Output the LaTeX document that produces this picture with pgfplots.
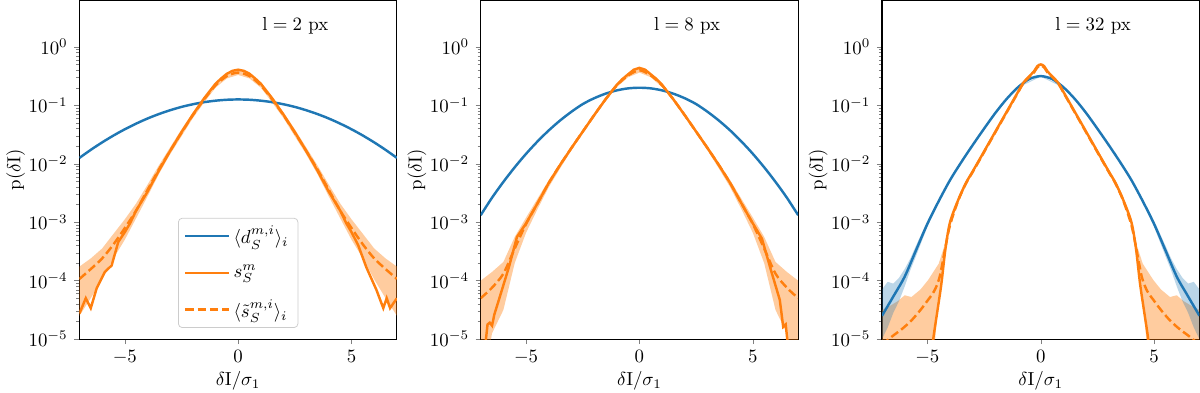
\documentclass[border=0pt]{standalone}
\usepackage{pgfplots}
\pgfplotsset{compat=1.18}

\definecolor{tabblue}{HTML}{1F77B4}
\definecolor{taborange}{HTML}{FF7F0E}

\pgfplotsset{legend image code/.code={\draw[#1] (0pt,0pt) -- (23pt,0pt);}}
\pgfplotsset{
  panel/.style={
    scale only axis,
    width=168.5pt, height=179.7pt,
    xmin=-7, xmax=7,
    ymin=1e-5, ymax=6.2,
    xtick={-5,0,5},
    ytickten={-5,...,0},
    tick align=outside,
    xtick pos=bottom, ytick pos=left,
    major tick length=2.7pt, minor tick length=1.6pt,
    axis line style={line width=0.6pt},
    xlabel={$\delta\mathrm{I}/\sigma_1$},
    ylabel={$\mathrm{p}(\delta\mathrm{I})$},
    xlabel style={at={(axis description cs:0.5,0)}, anchor=north,
      yshift=-16pt, inner sep=1pt},
    ylabel shift=-5pt,
  },
  dline/.style={tabblue, line width=1.3pt},
  sline/.style={taborange, line width=1.3pt},
  mline/.style={taborange, line width=1.3pt, dash pattern=on 4.5pt off 2pt},
  oband/.style={fill=taborange, fill opacity=0.4, draw=none, forget plot},
  bband/.style={fill=tabblue, fill opacity=0.3, draw=none, forget plot},
}

\begin{document}
\begin{tikzpicture}

% ---------- l = 2 px ----------
\begin{axis}[ymode=log, panel, at={(0pt,0pt)},
  legend style={at={(0.5,0.033)}, anchor=south, draw=black!20,
    rounded corners=2pt, row sep=6pt, inner xsep=3pt, inner ysep=2pt},
  legend cell align=left,
]
\addplot[oband] coordinates {
  (-7,1.74e-4) (-6.5,2.40e-4) (-6,3.55e-4) (-5.5,6.31e-4) (-5,1.12e-3)
  (-4.5,2.09e-3) (-4,4.37e-3) (-3.5,9.33e-3) (-3,0.0191) (-2.5,0.0389)
  (-2,0.0759) (-1.5,0.138) (-1,0.240) (-0.5,0.347) (0,0.398)
  (0.5,0.347) (1,0.240) (1.5,0.138) (2,0.0759) (2.5,0.0389) (3,0.0191)
  (3.5,9.33e-3) (4,4.37e-3) (4.5,2.09e-3) (5,1.12e-3) (5.5,6.31e-4)
  (6,3.55e-4) (6.5,2.40e-4) (7,1.74e-4)
  (7,2.51e-5) (6.5,5.01e-5) (6,1.05e-4) (5.5,2.40e-4) (5,5.01e-4)
  (4.5,1.17e-3) (4,2.75e-3) (3.5,6.61e-3) (3,0.0145) (2.5,0.0295)
  (2,0.0603) (1.5,0.112) (1,0.200) (0.5,0.288) (0,0.331)
  (-0.5,0.288) (-1,0.200) (-1.5,0.112) (-2,0.0603) (-2.5,0.0295)
  (-3,0.0145) (-3.5,6.61e-3) (-4,2.75e-3) (-4.5,1.17e-3) (-5,5.01e-4)
  (-5.5,2.40e-4) (-6,1.05e-4) (-6.5,5.01e-5) (-7,2.51e-5)
} -- cycle;
\addplot[dline, smooth] coordinates {
  (-7,0.0126) (-6.5,0.0173) (-6,0.0232) (-5.5,0.0304) (-5,0.0389)
  (-4.5,0.0486) (-4,0.0594) (-3.5,0.0708) (-3,0.0824) (-2.5,0.0939)
  (-2,0.1042) (-1.5,0.1132) (-1,0.120) (-0.5,0.1245) (0,0.126)
  (0.5,0.1245) (1,0.120) (1.5,0.1132) (2,0.1042) (2.5,0.0939)
  (3,0.0824) (3.5,0.0708) (4,0.0594) (4.5,0.0486) (5,0.0389)
  (5.5,0.0304) (6,0.0232) (6.5,0.0173) (7,0.0126)
};
\addlegendentry{$\langle d_S^{m,i}\rangle_i$}
\addplot[sline] coordinates {
  (-7,2.75e-5) (-6.72,5.01e-5) (-6.5,3.39e-5) (-6.24,7.41e-5)
  (-5.88,1.41e-4) (-5.58,1.82e-4) (-5.29,4.57e-4) (-5,6.76e-4)
  (-4.77,9.55e-4) (-4.5,1.58e-3) (-4,3.31e-3) (-3.5,7.59e-3)
  (-3,0.0166) (-2.5,0.0347) (-2,0.0692) (-1.5,0.132) (-1,0.234)
  (-0.75,0.288) (-0.5,0.347) (-0.25,0.389) (0,0.407)
  (0.25,0.389) (0.5,0.347) (0.75,0.288) (1,0.234) (1.5,0.132)
  (2,0.0692) (2.5,0.0347) (3,0.0166) (3.5,7.59e-3) (4,3.31e-3)
  (4.5,1.58e-3) (4.77,9.55e-4) (5,6.76e-4) (5.3,3.98e-4)
  (5.65,1.70e-4) (6.1,6.92e-5) (6.4,3.39e-5) (6.55,5.01e-5)
  (6.7,3.39e-5) (7,5.01e-5)
};
\addlegendentry{$s_S^m$}
\addplot[mline, smooth] coordinates {
  (-7,1.07e-4) (-6.5,1.58e-4) (-6,2.40e-4) (-5.5,4.17e-4) (-5,7.94e-4)
  (-4.5,1.58e-3) (-4,3.55e-3) (-3.5,7.94e-3) (-3,0.0166) (-2.5,0.0339)
  (-2,0.0676) (-1.5,0.126) (-1,0.219) (-0.5,0.316) (0,0.363)
  (0.5,0.316) (1,0.219) (1.5,0.126) (2,0.0676) (2.5,0.0339)
  (3,0.0166) (3.5,7.94e-3) (4,3.55e-3) (4.5,1.58e-3) (5,7.94e-4)
  (5.5,4.17e-4) (6,2.40e-4) (6.5,1.58e-4) (7,1.07e-4)
};
\addlegendentry{$\langle \tilde{s}_S^{m,i}\rangle_i$}
\node at (rel axis cs:0.68,0.926) {$\mathrm{l = 2\ px}$};
\end{axis}

% ---------- l = 8 px ----------
\begin{axis}[ymode=log, panel, at={(213pt,0pt)}]
\addplot[oband] coordinates {
  (-7,1.0e-4) (-6.5,1.41e-4) (-6,2.09e-4) (-5.5,5.62e-4) (-5,1.20e-3)
  (-4.5,2.51e-3) (-4,5.25e-3) (-3.5,0.0102) (-3,0.0200) (-2.5,0.0380)
  (-2,0.0724) (-1.5,0.132) (-1,0.234) (-0.5,0.347) (0,0.437)
  (0.5,0.347) (1,0.234) (1.5,0.132) (2,0.0724) (2.5,0.0380) (3,0.0200)
  (3.5,0.0102) (4,5.25e-3) (4.5,2.51e-3) (5,1.20e-3) (5.5,5.62e-4)
  (6,2.09e-4) (6.5,1.41e-4) (7,1.0e-4)
  (7,1e-6) (6.5,1.26e-5) (6,3.16e-5) (5.5,2.0e-4) (5,6.61e-4)
  (4.5,1.66e-3) (4,3.98e-3) (3.5,8.32e-3) (3,0.0170) (2.5,0.0331)
  (2,0.0631) (1.5,0.1175) (1,0.204) (0.5,0.302) (0,0.363)
  (-0.5,0.302) (-1,0.204) (-1.5,0.1175) (-2,0.0631) (-2.5,0.0331)
  (-3,0.0170) (-3.5,8.32e-3) (-4,3.98e-3) (-4.5,1.66e-3) (-5,6.61e-4)
  (-5.5,2.0e-4) (-6,3.16e-5) (-6.5,1.26e-5) (-7,1e-6)
} -- cycle;
\addplot[dline, smooth] coordinates {
  (-7,1.32e-3) (-6.5,2.63e-3) (-6,4.90e-3) (-5.5,8.71e-3) (-5,0.0148)
  (-4.5,0.0240) (-4,0.0372) (-3.5,0.0550) (-3,0.0776) (-2.5,0.105)
  (-2,0.132) (-1.5,0.158) (-1,0.180) (-0.5,0.195) (0,0.200)
  (0.5,0.195) (1,0.180) (1.5,0.158) (2,0.132) (2.5,0.105) (3,0.0776)
  (3.5,0.0550) (4,0.0372) (4.5,0.0240) (5,0.0148) (5.5,8.71e-3)
  (6,4.90e-3) (6.5,2.63e-3) (7,1.32e-3)
};
\addplot[sline] coordinates {
  (-6.85,5e-6) (-6.7,1.78e-5) (-6.6,1.91e-5) (-6.5,1.70e-5)
  (-6.4,2.63e-5) (-6.2,4.68e-5) (-5.75,1.74e-4) (-5.4,5.62e-4)
  (-5,9.55e-4) (-4.5,2.09e-3) (-4,4.68e-3) (-3.5,9.55e-3)
  (-3,0.0186) (-2.5,0.0355) (-2,0.0676) (-1.5,0.126) (-1,0.224)
  (-0.75,0.282) (-0.5,0.339) (-0.25,0.407) (0,0.437)
  (0.25,0.407) (0.5,0.339) (0.75,0.282) (1,0.224) (1.5,0.126)
  (2,0.0676) (2.5,0.0355) (3,0.0186) (3.5,9.55e-3) (4,4.68e-3)
  (4.5,2.09e-3) (5,9.55e-4) (5.4,5.25e-4) (5.8,1.51e-4)
  (6.19,4.68e-5) (6.34,1.62e-5) (6.45,1.78e-5) (6.6,5e-6)
};
\addplot[mline, smooth] coordinates {
  (-7,5.01e-5) (-6.5,7.59e-5) (-6,1.32e-4) (-5.5,3.55e-4) (-5,9.33e-4)
  (-4.5,2.09e-3) (-4,4.68e-3) (-3.5,9.55e-3) (-3,0.0186) (-2.5,0.0355)
  (-2,0.0676) (-1.5,0.126) (-1,0.219) (-0.5,0.324) (0,0.398)
  (0.5,0.324) (1,0.219) (1.5,0.126) (2,0.0676) (2.5,0.0355)
  (3,0.0186) (3.5,9.55e-3) (4,4.68e-3) (4.5,2.09e-3) (5,9.33e-4)
  (5.5,3.55e-4) (6,1.32e-4) (6.5,7.59e-5) (7,5.01e-5)
};
\node at (rel axis cs:0.65,0.926) {$\mathrm{l = 8\ px}$};
\end{axis}

% ---------- l = 32 px ----------
\begin{axis}[ymode=log, panel, at={(426pt,0pt)}]
\addplot[oband] coordinates {
  (-7,3.16e-5) (-6.6,3.80e-5) (-6.3,4.47e-5) (-6,5.62e-5) (-5.7,5.25e-5)
  (-5.3,7.08e-5) (-4.97,1.02e-4) (-4.5,1.95e-4) (-4.07,6.46e-4)
  (-3.64,2.69e-3) (-3.3,5.13e-3) (-3,7.94e-3) (-2.5,0.0170) (-2,0.0372)
  (-1.5,0.0813) (-1,0.178) (-0.5,0.331) (-0.3,0.398) (0,0.513)
  (0.3,0.398) (0.5,0.331) (1,0.178) (1.5,0.0813) (2,0.0372)
  (2.5,0.0170) (3,7.94e-3) (3.3,5.13e-3) (3.64,2.69e-3) (4.07,6.46e-4)
  (4.5,1.95e-4) (4.97,1.02e-4) (5.3,7.08e-5) (5.7,5.25e-5) (6,5.62e-5)
  (6.3,4.47e-5) (6.6,3.80e-5) (7,3.16e-5)
  (7,1e-6) (4.7,6.31e-6) (4.5,5.01e-5) (4.25,2.51e-4) (4,8.51e-4)
  (3.64,2.19e-3) (3.3,4.27e-3) (3,6.92e-3) (2.5,0.0151) (2,0.0339)
  (1.5,0.0741) (1,0.162) (0.5,0.302) (0.3,0.355) (0,0.479)
  (-0.3,0.355) (-0.5,0.302) (-1,0.162) (-1.5,0.0741) (-2,0.0339)
  (-2.5,0.0151) (-3,6.92e-3) (-3.3,4.27e-3) (-3.64,2.19e-3) (-4,8.51e-4)
  (-4.25,2.51e-4) (-4.5,5.01e-5) (-4.7,6.31e-6) (-7,1e-6)
} -- cycle;
\addplot[bband] coordinates {
  (-7,7.08e-5) (-6.75,9.55e-5) (-6.5,8.91e-5) (-6.25,1.12e-4) (-6,1.58e-4)
  (-5.75,2.40e-4) (-5.5,3.98e-4) (-5,1.05e-3) (-4.5,2.45e-3) (-4,5.50e-3)
  (-3.5,0.0110) (-3,0.0214) (-2.5,0.0407) (-2,0.0759) (-1.5,0.132)
  (-1,0.209) (0,0.324) (1,0.209) (1.5,0.132) (2,0.0759) (2.5,0.0407)
  (3,0.0214) (3.5,0.0110) (4,5.50e-3) (4.5,2.45e-3) (5,1.05e-3)
  (5.5,3.98e-4) (5.75,2.40e-4) (6,1.58e-4) (6.25,1.12e-4) (6.5,8.91e-5)
  (6.75,9.55e-5) (7,7.08e-5)
  (7,1.0e-5) (6.75,1.58e-5) (6.5,2.82e-5) (6.25,4.47e-5) (6,7.94e-5)
  (5.75,1.51e-4) (5.5,2.63e-4) (5,8.32e-4) (4.5,2.14e-3) (4,5.01e-3)
  (3.5,0.0105) (3,0.0204) (2.5,0.0389) (2,0.0724) (1.5,0.126)
  (1,0.200) (0,0.309) (-1,0.200) (-1.5,0.126) (-2,0.0724) (-2.5,0.0389)
  (-3,0.0204) (-3.5,0.0105) (-4,5.01e-3) (-4.5,2.14e-3) (-5,8.32e-4)
  (-5.5,2.63e-4) (-5.75,1.51e-4) (-6,7.94e-5) (-6.25,4.47e-5)
  (-6.5,2.82e-5) (-6.75,1.58e-5) (-7,1.0e-5)
} -- cycle;
\addplot[dline, smooth] coordinates {
  (-7,2.51e-5) (-6.5,5.37e-5) (-6,1.17e-4) (-5.5,3.31e-4) (-5,9.33e-4)
  (-4.5,2.29e-3) (-4,5.25e-3) (-3.5,0.0107) (-3,0.0209) (-2.5,0.0398)
  (-2,0.0741) (-1.5,0.129) (-1,0.204) (-0.5,0.282) (0,0.316)
  (0.5,0.282) (1,0.204) (1.5,0.129) (2,0.0741) (2.5,0.0398)
  (3,0.0209) (3.5,0.0107) (4,5.25e-3) (4.5,2.29e-3) (5,9.33e-4)
  (5.5,3.31e-4) (6,1.17e-4) (6.5,5.37e-5) (7,2.51e-5)
};
\addplot[sline, smooth] coordinates {
  (-4.8,5e-6) (-4.74,1e-5) (-4.55,3.16e-5) (-4.38,8.91e-5) (-4.2,3.55e-4)
  (-4,1.0e-3) (-3.64,2.40e-3) (-3.3,4.68e-3) (-3,7.41e-3) (-2.5,0.0162)
  (-2,0.0355) (-1.5,0.0776) (-1,0.170) (-0.78,0.240) (-0.5,0.316)
  (-0.3,0.380) (-0.15,0.468) (0,0.501) (0.15,0.468) (0.3,0.380)
  (0.5,0.316) (0.78,0.240) (1,0.170) (1.5,0.0776) (2,0.0355)
  (2.5,0.0162) (3,7.41e-3) (3.3,4.68e-3) (3.64,2.40e-3) (4,1.0e-3)
  (4.2,3.55e-4) (4.38,8.91e-5) (4.55,3.16e-5) (4.74,1e-5) (4.8,5e-6)
};
\addplot[mline, smooth] coordinates {
  (-7,7.94e-6) (-6.57,1.10e-5) (-6.1,1.51e-5) (-5.7,2.09e-5) (-5.3,3.16e-5)
  (-4.97,4.68e-5) (-4.7,6.61e-5) (-4.46,1.15e-4) (-4.2,3.80e-4)
  (-4,8.91e-4) (-3.64,2.34e-3) (-3.3,4.57e-3) (-3,7.24e-3) (-2.5,0.0158)
  (-2,0.0347) (-1.5,0.0759) (-1,0.166) (-0.78,0.234) (-0.5,0.309)
  (-0.3,0.363) (-0.15,0.447) (0,0.479) (0.15,0.447) (0.3,0.363)
  (0.5,0.309) (0.78,0.234) (1,0.166) (1.5,0.0759) (2,0.0347)
  (2.5,0.0158) (3,7.24e-3) (3.3,4.57e-3) (3.64,2.34e-3) (4,8.91e-4)
  (4.2,3.80e-4) (4.46,1.15e-4) (4.7,6.61e-5) (4.97,4.68e-5) (5.3,3.16e-5)
  (5.7,2.09e-5) (6.1,1.51e-5) (6.57,1.10e-5) (7,7.94e-6)
};
\node at (rel axis cs:0.665,0.926) {$\mathrm{l = 32\ px}$};
\end{axis}

\end{tikzpicture}
\end{document}
